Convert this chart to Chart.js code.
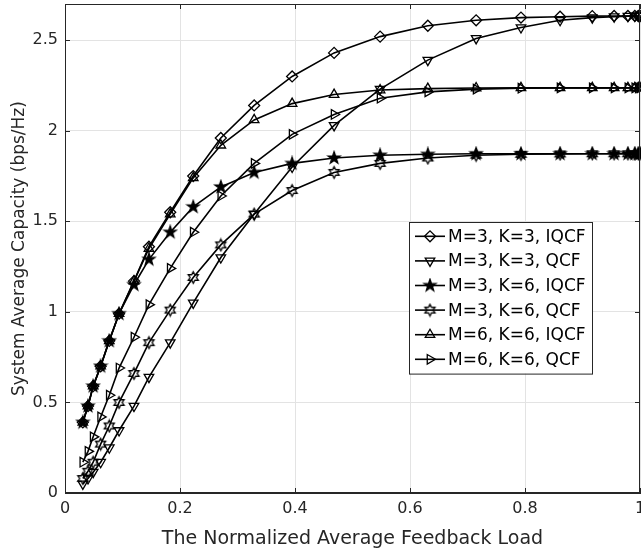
<!DOCTYPE html>
<html>
<head>
<meta charset="utf-8">
<script src="https://cdn.jsdelivr.net/npm/chart.js@4/dist/chart.umd.min.js"></script>
<style>
html,body{margin:0;padding:0;background:#fff;}
canvas{display:block;}
</style>
</head>
<body>
<canvas id="grafica" width="641" height="554"></canvas>
<script>
// =========================
// DATA
// =========================
const feedbackLoad = [0.031,0.040,0.049,0.062,0.077,0.094,0.120,0.146,0.183,0.223,0.271,0.329,0.395,0.468,0.548,0.631,0.715,0.793,0.861,0.917,0.955,0.979,0.991,0.997,1.000];

const capM3K3IQCF = [0.39,0.48,0.59,0.70,0.84,0.99,1.17,1.36,1.55,1.75,1.96,2.14,2.30,2.43,2.52,2.58,2.61,2.625,2.63,2.633,2.634,2.634,2.634,2.634,2.634];
const capM3K3QCF  = [0.05,0.08,0.115,0.17,0.25,0.345,0.48,0.64,0.83,1.05,1.30,1.54,1.80,2.03,2.23,2.39,2.51,2.57,2.61,2.625,2.63,2.633,2.634,2.634,2.634];
const capM3K6IQCF = [0.39,0.48,0.59,0.70,0.84,0.99,1.15,1.29,1.44,1.58,1.69,1.77,1.82,1.85,1.865,1.87,1.873,1.873,1.873,1.873,1.873,1.873,1.873,1.873,1.873];
const capM3K6QCF  = [0.08,0.12,0.17,0.27,0.37,0.50,0.66,0.83,1.01,1.19,1.37,1.54,1.67,1.77,1.82,1.85,1.865,1.87,1.872,1.873,1.873,1.873,1.873,1.873,1.873];
const capM6K6IQCF = [0.39,0.48,0.59,0.70,0.84,0.99,1.17,1.35,1.54,1.74,1.92,2.06,2.15,2.20,2.225,2.233,2.236,2.237,2.237,2.237,2.237,2.237,2.237,2.237,2.237];
const capM6K6QCF  = [0.17,0.23,0.31,0.42,0.54,0.69,0.86,1.04,1.24,1.44,1.64,1.82,1.98,2.09,2.18,2.215,2.23,2.235,2.237,2.237,2.237,2.237,2.237,2.237,2.237];

const seriesLabels = ['M=3, K=3, IQCF','M=3, K=3, QCF','M=3, K=6, IQCF','M=3, K=6, QCF','M=6, K=6, IQCF','M=6, K=6, QCF'];
const xTicks = [0,0.2,0.4,0.6,0.8,1];
const yTicks = [0,0.5,1,1.5,2,2.5];

// =========================
// MARKERS
// =========================
function estrella(puntas, rExt, rInt, relleno){
  const s = Math.ceil(rExt*2+3);
  const c = document.createElement('canvas');
  c.width = s; c.height = s;
  const g = c.getContext('2d');
  g.translate(s/2, s/2);
  g.beginPath();
  for(let i=0;i<puntas*2;i++){
    const r = i%2===0 ? rExt : rInt;
    const a = -Math.PI/2 + i*Math.PI/puntas;
    g.lineTo(r*Math.cos(a), r*Math.sin(a));
  }
  g.closePath();
  g.lineWidth = 1.3;
  g.strokeStyle = '#000';
  if(relleno){ g.fillStyle = '#000'; g.fill(); }
  g.stroke();
  return c;
}
const pentagrama = estrella(5, 6.3, 2.5, true);
const hexagrama = estrella(6, 5.8, 3.2, false);

const estilos = [
  {pointStyle:'rectRot', rotation:0, radius:5.5},
  {pointStyle:'triangle', rotation:180, radius:5.5},
  {pointStyle:pentagrama, rotation:0, radius:5},
  {pointStyle:hexagrama, rotation:0, radius:5},
  {pointStyle:'triangle', rotation:0, radius:5.5},
  {pointStyle:'triangle', rotation:90, radius:5.5}
];
const valores = [capM3K3IQCF,capM3K3QCF,capM3K6IQCF,capM3K6QCF,capM6K6IQCF,capM6K6QCF];

const datasets = valores.map((v,i)=>({
  label: seriesLabels[i],
  data: feedbackLoad.map((x,j)=>({x, y:v[j]})),
  borderColor:'#000',
  borderWidth:1.6,
  backgroundColor:'rgba(0,0,0,0)',
  pointBorderColor:'#000',
  pointBackgroundColor:'rgba(0,0,0,0)',
  pointBorderWidth:1.3,
  pointStyle: estilos[i].pointStyle,
  pointRotation: estilos[i].rotation,
  pointRadius: estilos[i].radius,
  tension:0,
  fill:false,
  clip:8
}));

// =========================
// PLUGINS
// =========================
const ejes = {
  id:'ejes',
  afterDraw(chart){
    const {ctx, chartArea:a, scales:{x,y}} = chart;
    ctx.save();
    ctx.strokeStyle = '#262626';
    ctx.lineWidth = 1;
    ctx.strokeRect(a.left+0.5, a.top+0.5, a.right-a.left-1, a.bottom-a.top-1);
    const t = 5;
    ctx.beginPath();
    xTicks.forEach(v=>{
      const px = Math.round(x.getPixelForValue(v))+0.5;
      ctx.moveTo(px, a.bottom); ctx.lineTo(px, a.bottom-t);
      ctx.moveTo(px, a.top); ctx.lineTo(px, a.top+t);
    });
    yTicks.forEach(v=>{
      const py = Math.round(y.getPixelForValue(v))+0.5;
      ctx.moveTo(a.left, py); ctx.lineTo(a.left+t, py);
      ctx.moveTo(a.right, py); ctx.lineTo(a.right-t, py);
    });
    ctx.stroke();
    ctx.restore();
  }
};

const leyenda = {
  id:'leyenda',
  afterDraw(chart){
    const ctx = chart.ctx;
    const x0 = 409, y0 = 222, w = 183, alto = 24.6, pad = 2;
    const h = alto*datasets.length + pad*2;
    ctx.save();
    ctx.fillStyle = '#fff';
    ctx.fillRect(x0, y0, w, h);
    ctx.strokeStyle = '#262626';
    ctx.lineWidth = 1;
    ctx.strokeRect(x0+0.5, y0+0.5, w, h);
    ctx.font = '17px "DejaVu Sans"';
    ctx.textBaseline = 'middle';
    datasets.forEach((d,i)=>{
      const cy = y0 + pad + alto*(i+0.5);
      ctx.strokeStyle = '#000';
      ctx.lineWidth = 1.6;
      ctx.beginPath();
      ctx.moveTo(x0+6, cy); ctx.lineTo(x0+36, cy);
      ctx.stroke();
      ctx.fillStyle = 'rgba(0,0,0,0)';
      ctx.strokeStyle = '#000';
      ctx.lineWidth = 1.3;
      Chart.helpers.drawPoint(ctx, {pointStyle:d.pointStyle, rotation:d.pointRotation, radius:d.pointRadius, borderWidth:1.3}, x0+21, cy);
      ctx.fillStyle = '#000';
      ctx.fillText(d.label, x0+39, cy+1);
    });
    ctx.restore();
  }
};

// =========================
// CHART
// =========================
const fuenteTicks = {family:'DejaVu Sans', size:16};

new Chart(document.getElementById('grafica'), {
  type:'line',
  data:{datasets},
  options:{
    responsive:false,
    animation:false,
    layout:{autoPadding:false, padding:{left:0, top:4, right:1, bottom:0}},
    plugins:{legend:{display:false}, tooltip:{enabled:false}},
    scales:{
      x:{
        type:'linear', min:0, max:1,
        afterFit: s => { s.height = 61; s.paddingLeft = 0; s.paddingRight = 0; },
        afterBuildTicks: s => { s.ticks = xTicks.map(v=>({value:v})); },
        grid:{color:'#e3e3e3', drawTicks:false},
        border:{display:true, color:'#262626'},
        ticks:{color:'#262626', font:fuenteTicks, padding:6, maxRotation:0,
          callback: v => String(v)},
        title:{display:true, text:'The Normalized Average Feedback Load', color:'#262626', font:{family:'DejaVu Sans', size:19}, padding:{top:0, bottom:4}}
      },
      y:{
        type:'linear', min:0, max:2.7,
        afterFit: s => { s.width = 65; s.paddingTop = 0; s.paddingBottom = 0; },
        afterBuildTicks: s => { s.ticks = yTicks.map(v=>({value:v})); },
        grid:{color:'#e3e3e3', drawTicks:false},
        border:{display:true, color:'#262626'},
        ticks:{color:'#262626', font:fuenteTicks, padding:7,
          callback: v => String(v)},
        title:{display:true, text:'System Average Capacity (bps/Hz)', color:'#262626', font:{family:'DejaVu Sans', size:17}, padding:{top:9, bottom:0}}
      }
    }
  },
  plugins:[ejes, leyenda]
});
</script>
</body>
</html>
